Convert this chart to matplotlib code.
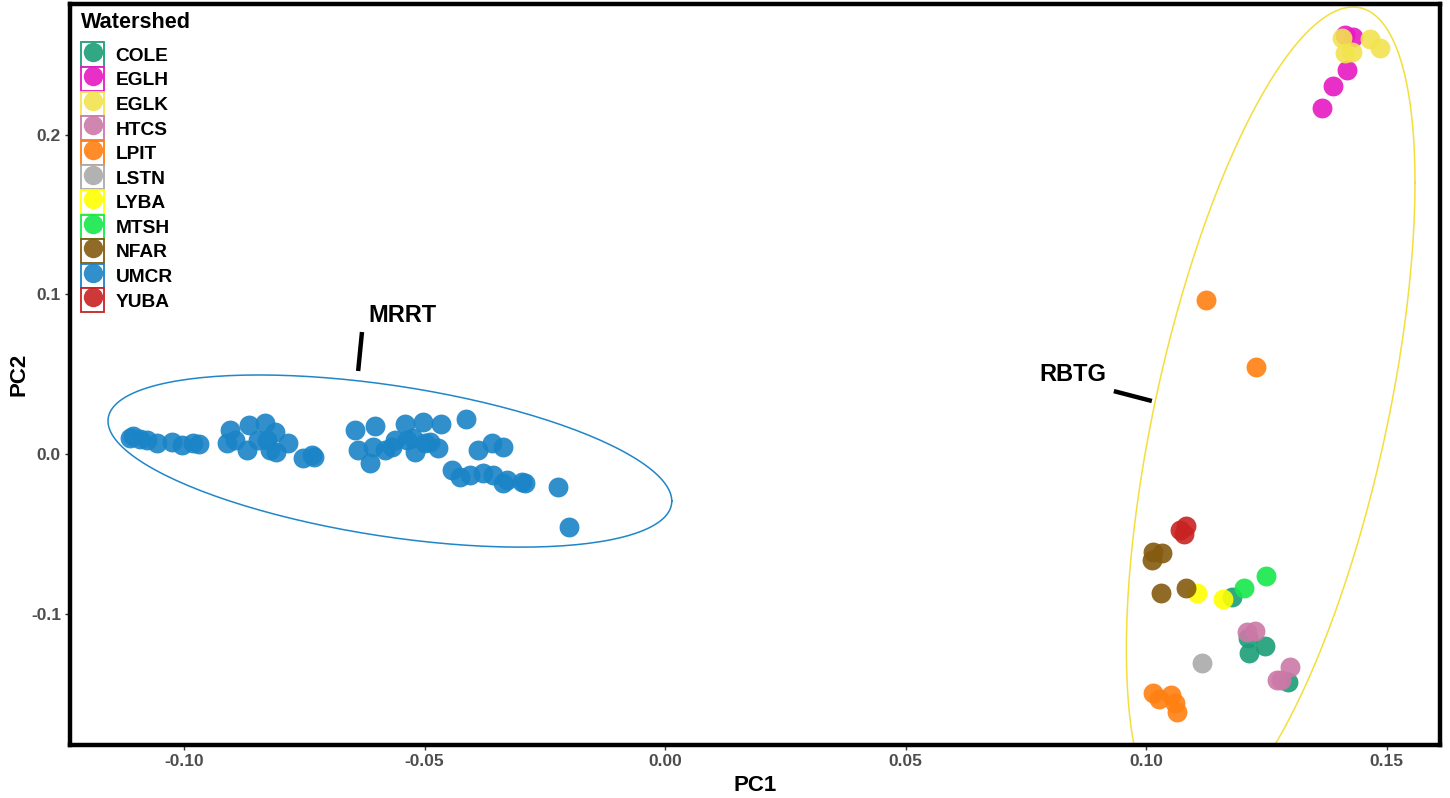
import numpy as np
import matplotlib
matplotlib.use('Agg')
import matplotlib.pyplot as plt
from matplotlib.patches import Patch
from matplotlib.lines import Line2D
from matplotlib.legend_handler import HandlerTuple
from matplotlib import font_manager

# PCA scores per watershed
cole_pc1 = [0.1179, 0.1212, 0.1247, 0.1214, 0.1295]
cole_pc2 = [-0.0895, -0.1152, -0.1202, -0.1246, -0.1428]
eglh_pc1 = [0.1414, 0.1430, 0.1418, 0.1389, 0.1366]
eglh_pc2 = [0.2624, 0.2611, 0.2405, 0.2304, 0.2167]
eglk_pc1 = [0.1407, 0.1466, 0.1486, 0.1414, 0.1428]
eglk_pc2 = [0.2605, 0.2599, 0.2542, 0.2511, 0.2517]
htcs_pc1 = [0.1210, 0.1227, 0.1299, 0.1272, 0.1281]
htcs_pc2 = [-0.1115, -0.1108, -0.1334, -0.1415, -0.1415]
lpit_pc1 = [0.1015, 0.1027, 0.1052, 0.1060, 0.1064, 0.1125, 0.1229]
lpit_pc2 = [-0.1497, -0.1534, -0.1509, -0.1559, -0.1616, 0.0964, 0.0545]
lstn_pc1 = [0.1116]
lstn_pc2 = [-0.1309]
lyba_pc1 = [0.1106, 0.1160]
lyba_pc2 = [-0.0870, -0.0908]
mtsh_pc1 = [0.1204, 0.1249]
mtsh_pc2 = [-0.0839, -0.0764]
nfar_pc1 = [0.1015, 0.1033, 0.1012, 0.1031, 0.1083]
nfar_pc2 = [-0.0614, -0.0620, -0.0664, -0.0870, -0.0839]
umcr_pc1 = [-0.1112, -0.1106, -0.1091, -0.1077, -0.1056, -0.1025, -0.1004, -0.0981,
            -0.0969, -0.0911, -0.0904, -0.0894, -0.0869, -0.0865, -0.0846, -0.0832,
            -0.0827, -0.0811, -0.0821, -0.0809, -0.0784, -0.0753, -0.0734, -0.0730,
            -0.0644, -0.0638, -0.0613, -0.0603, -0.0607, -0.0582, -0.0568, -0.0561,
            -0.0541, -0.0536, -0.0520, -0.0524, -0.0503, -0.0499, -0.0489, -0.0472,
            -0.0466, -0.0414, -0.0389, -0.0360, -0.0337, -0.0443, -0.0426, -0.0405,
            -0.0378, -0.0358, -0.0337, -0.0328, -0.0297, -0.0291, -0.0222, -0.0200]
umcr_pc2 = [0.0100, 0.0113, 0.0094, 0.0088, 0.0069, 0.0075, 0.0056, 0.0069,
            0.0063, 0.0069, 0.0150, 0.0088, 0.0025, 0.0182, 0.0088, 0.0194,
            0.0088, 0.0138, 0.0025, 0.0013, 0.0069, -0.0025, -0.0006, -0.0019,
            0.0150, 0.0025, -0.0056, 0.0175, 0.0044, 0.0025, 0.0044, 0.0088,
            0.0188, 0.0088, 0.0013, 0.0100, 0.0200, 0.0069, 0.0075, 0.0038,
            0.0188, 0.0219, 0.0025, 0.0069, 0.0044, -0.0100, -0.0144, -0.0131,
            -0.0119, -0.0131, -0.0182, -0.0163, -0.0175, -0.0182, -0.0207, -0.0457]
yuba_pc1 = [0.1071, 0.1083, 0.1079]
yuba_pc2 = [-0.0476, -0.0451, -0.0501]

watersheds = ['COLE', 'EGLH', 'EGLK', 'HTCS', 'LPIT', 'LSTN', 'LYBA', 'MTSH', 'NFAR', 'UMCR', 'YUBA']
pc1 = [cole_pc1, eglh_pc1, eglk_pc1, htcs_pc1, lpit_pc1, lstn_pc1, lyba_pc1, mtsh_pc1, nfar_pc1, umcr_pc1, yuba_pc1]
pc2 = [cole_pc2, eglh_pc2, eglk_pc2, htcs_pc2, lpit_pc2, lstn_pc2, lyba_pc2, mtsh_pc2, nfar_pc2, umcr_pc2, yuba_pc2]
colors = ['#1B9E77', '#E619C3', '#F2E34E', '#CC79A7', '#FF7F11', '#AAAAAA',
          '#FFFF00', '#15E84A', '#845B0F', '#1A84C7', '#C92222']

# river ellipses: center, spread along PC1 / PC2, correlation
rivers = ['MRRT', 'RBTG']
ell_pc1_center = [-0.0572, 0.1259]
ell_pc2_center = [-0.0044, 0.0238]
ell_pc1_half = [0.0586, 0.0300]
ell_pc2_half = [0.0539, 0.2561]
ell_corr = [-0.465, 0.571]
ell_colors = ['#1F86C8', '#F3DE3C']

names = set(f.name for f in font_manager.fontManager.ttflist)
narrow = 'Liberation Sans Narrow' if 'Liberation Sans Narrow' in names else 'Liberation Sans'
plt.rcParams['font.family'] = ['Liberation Sans', 'DejaVu Sans']
plt.rcParams['axes.unicode_minus'] = False

fig = plt.figure(figsize=(14.5, 7.98), dpi=100)
ax = fig.add_axes([70 / 1450, 1 - 745 / 798, 1370 / 1450, 741 / 798])

for name, x, y, c in zip(watersheds, pc1, pc2, colors):
    ax.scatter(x, y, s=205, color=c, alpha=0.9, linewidths=0, zorder=3)

t = np.linspace(0, 2 * np.pi, 200)
for i in range(len(rivers)):
    r = ell_corr[i]
    ex = ell_pc1_center[i] + ell_pc1_half[i] * np.cos(t)
    ey = ell_pc2_center[i] + ell_pc2_half[i] * (r * np.cos(t) + np.sqrt(1 - r ** 2) * np.sin(t))
    ax.plot(ex, ey, color=ell_colors[i], lw=1.1, zorder=2)

# labels for the two rivers
ax.plot([-0.0630, -0.0638], [0.0764, 0.0520], color='black', lw=3.2, solid_capstyle='butt')
ax.text(-0.0616, 0.0865, 'MRRT', fontsize=17, fontweight='bold', ha='left', va='center')
ax.plot([0.0933, 0.1012], [0.0394, 0.0332], color='black', lw=3.2, solid_capstyle='butt')
ax.text(0.0918, 0.0495, 'RBTG', fontsize=17, fontweight='bold', ha='right', va='center')

ax.set_xlim(-0.1237, 0.1611)
ax.set_ylim(-0.1822, 0.2818)
xt = [-0.10, -0.05, 0.00, 0.05, 0.10, 0.15]
yt = [-0.1, 0.0, 0.1, 0.2]
ax.set_xticks(xt)
ax.set_xticklabels(['%.2f' % v for v in xt])
ax.set_yticks(yt)
ax.set_yticklabels(['%.1f' % v for v in yt])
for lab in ax.get_xticklabels() + ax.get_yticklabels():
    lab.set_family([narrow, 'DejaVu Sans'])
    lab.set_fontweight('bold')
    lab.set_fontsize(12.5)
    lab.set_color('#4D4D4D')
ax.tick_params(length=3.5, width=1, color='#333333', pad=3)
ax.set_xlabel('PC1', fontsize=16, fontweight='bold', family=[narrow, 'DejaVu Sans'], labelpad=4)
ax.set_ylabel('PC2', fontsize=16, fontweight='bold', family=[narrow, 'DejaVu Sans'], labelpad=1)
for sp in ax.spines.values():
    sp.set_linewidth(3.2)
    sp.set_color('black')

handles = [(Patch(facecolor='white', edgecolor=c, linewidth=1.3),
            Line2D([], [], marker='o', ls='', markersize=14, color=c, alpha=0.9, markeredgewidth=0))
           for c in colors]
leg = ax.legend(handles, watersheds, handler_map={tuple: HandlerTuple(ndivide=1, pad=0)},
                loc='upper left', bbox_to_anchor=(0.0022, 1.0), frameon=False,
                title='Watershed', alignment='left', prop={'weight': 'bold', 'size': 13.8},
                handlelength=1.2, handleheight=1.55, labelspacing=0.03, handletextpad=0.6,
                borderaxespad=0.3, borderpad=0.12)
leg.get_title().set_fontweight('bold')
leg.get_title().set_fontsize(15.6)
leg._legend_box.sep = 6.8

fig.savefig('out.png', dpi=100)
